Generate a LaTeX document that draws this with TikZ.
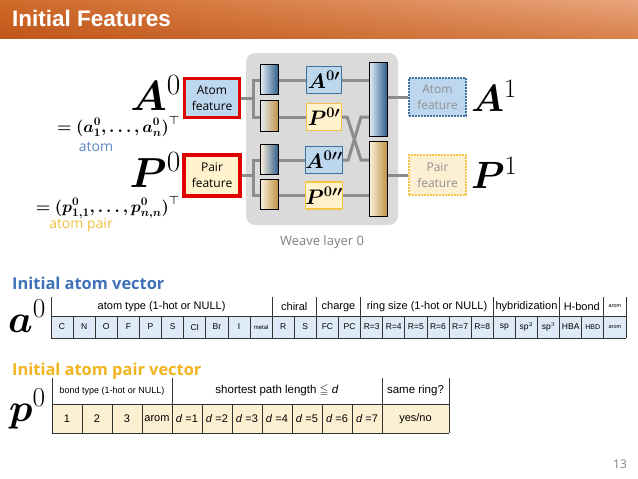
\documentclass[tikz,border=0pt]{standalone}
\usepackage{fix-cm}
\usepackage{amsmath,amssymb,bm}
\usepackage{fontspec}
\setmainfont{Liberation Sans}
\newfontfamily\osans{Open Sans}
\usetikzlibrary{backgrounds,shadings}
\newcommand\setfs[1]{\fontsize{#1}{#1}\selectfont}
\newcommand\eqAtext{$\bm{=(a_1^0,\ldots,a_n^0)^\top}$}
\newcommand\eqPtext{$\bm{=(p_{1,1}^0,\ldots,p_{n,n}^0)^\top}$}
\definecolor{tUL}{HTML}{D06A2A}
\definecolor{tLL}{HTML}{C0561A}
\definecolor{tUR}{HTML}{E8A47C}
\definecolor{tLR}{HTML}{D9824C}
\definecolor{lblue}{HTML}{BDD7EE}
\definecolor{llblue}{HTML}{DEEBF7}
\definecolor{dblue}{HTML}{41719C}
\definecolor{beige}{HTML}{FFF2CC}
\definecolor{lbeige}{HTML}{FDF0D2}
\definecolor{ybord}{HTML}{F4C446}
\definecolor{redb}{HTML}{E00000}
\definecolor{lineg}{HTML}{8C8C8C}
\definecolor{panel}{HTML}{DADADA}
\definecolor{barblue}{HTML}{2E5C8A}
\definecolor{bartan}{HTML}{BF9040}
\definecolor{barlight}{HTML}{E2ECF6}
\definecolor{barbeige}{HTML}{FAF0DA}
\definecolor{headblue}{HTML}{3F72B8}
\definecolor{headyel}{HTML}{F2B520}
\definecolor{atomtxt}{HTML}{5B87C5}
\definecolor{pairtxt}{HTML}{F0C040}
\definecolor{greytxt}{HTML}{909090}
\begin{document}
\begin{tikzpicture}[x=1pt,y=-1pt,
  conn/.style={draw=lineg,line width=3pt},
  bar/.style={draw=black,line width=1pt,minimum width=18pt,inner sep=0pt},
  inA/.style={draw=dblue,fill=lblue,line width=1.3pt,minimum width=35pt,minimum height=27pt,inner sep=0pt,font=\setfs{21}},
  inP/.style={draw=ybord,fill=beige,line width=1.3pt,minimum width=35pt,minimum height=27pt,inner sep=0pt,font=\setfs{21}},
  feat/.style={draw=redb,align=center,inner sep=0pt,font=\osans\fontsize{12}{16}\selectfont},
  outbox/.style={align=center,inner sep=0pt,line width=1.8pt,dash pattern=on 1.6pt off 1.4pt,text=greytxt,font=\osans\fontsize{12}{16}\selectfont,minimum width=57pt},
  tline/.style={draw=black!80,line width=0.8pt},
  acell/.style={inner sep=0pt,font=\setfs{8.5}},
  pcell/.style={inner sep=0pt,font=\setfs{11}},
  hlab/.style={inner sep=0pt,font=\setfs{11}},
  big/.style={inner sep=0pt,font=\setfs{42}},
  bigr/.style={inner sep=0pt,font=\setfs{38}},
  vec/.style={inner sep=0pt,anchor=base west,font=\setfs{39}},
  eqn/.style={inner sep=0pt,font=\setfs{16.6}},
  heading/.style={inner sep=0pt,anchor=base west,font=\osans\bfseries\setfs{16.4}}
]
\useasboundingbox (0,0) rectangle (638,479);
% title bar
\shade[upper left=tUL,lower left=tLL,upper right=tUR,lower right=tLR] (0,0) rectangle (638,38);
\node[anchor=base west,inner sep=0pt,text=white,font=\bfseries\setfs{22.5}] (title) at (12,27) {Initial Features};

% bars
\node[bar,minimum height=30pt,left color=barlight,right color=barblue] (b1) at (269.5,79.5) {};
\node[bar,minimum height=31pt,left color=barlight,right color=bartan] (b2) at (269.5,116) {};
\node[bar,minimum height=30pt,left color=barbeige,right color=barblue] (b3) at (269.5,159.5) {};
\node[bar,minimum height=30pt,left color=barbeige,right color=bartan] (b4) at (269.5,194.5) {};
\node[bar,minimum height=74pt,left color=barlight,right color=barblue] (B1) at (378.5,99.5) {};
\node[bar,minimum height=75pt,left color=barbeige,right color=bartan] (B2) at (378.5,179) {};

% inner boxes
\node[inA] (a1) at (324,80) {$\bm{A^{0\prime}}$};
\node[inP] (p1) at (324,117) {$\bm{P^{0\prime}}$};
\node[inA] (a2) at (324,160) {$\bm{A^{0\prime\prime}}$};
\node[inP] (p2) at (324,195.5) {$\bm{P^{0\prime\prime}}$};

% feature boxes
\node[feat,fill=lblue,line width=3pt,minimum width=55pt,minimum height=39pt] (af) at (212,98) {Atom\\feature};
\node[feat,fill=beige,line width=4pt,minimum width=56pt,minimum height=41pt] (pf) at (212,175.5) {Pair\\feature};
\node[outbox,draw=dblue,fill=lblue,minimum height=38pt] (ao) at (437.5,97) {Atom\\feature};
\node[outbox,draw=ybord,fill=lbeige,minimum height=40pt] (po) at (437.5,175) {Pair\\feature};

\node[anchor=base,inner sep=0pt,text=black!50,font=\osans\setfs{13}] (wl) at (322,245) {Weave layer 0};

% math labels
\node[big,anchor=base east] (A0) at (181,110) {$\bm{A}^0$};
\node[eqn,anchor=base east] (eqA) at (180,132) {\eqAtext};
\node[anchor=base,inner sep=0pt,text=atomtxt,font=\osans\setfs{14}] (atl) at (96,151) {atom};
\node[big,anchor=base east] (P0) at (181,187) {$\bm{P}^0$};
\node[eqn,anchor=base east] (eqP) at (180,212) {\eqPtext};
\node[anchor=base,inner sep=0pt,text=pairtxt,font=\osans\setfs{14}] (ptl) at (81,228) {atom pair};
\node[bigr,anchor=base west] (A1) at (471,111) {$\bm{A}^1$};
\node[bigr,anchor=base west] (P1) at (471,188) {$\bm{P}^1$};

% headings
\node[heading,text=headblue] (h1) at (12,289) {Initial atom vector};
\node[heading,text=headyel] (h2) at (12,375) {Initial atom pair vector};
\node[vec] (av) at (8,332) {$\bm{a}^0$};
\node[vec] (pv) at (9,421) {$\bm{p}^0$};

% atom table
\fill[llblue] (51,316) rectangle (626,338);
\foreach \t [count=\i from 0] in {C,N,O,F,P,S,Cl,Br,I,{\setfs{6}metal},R,S,FC,PC,R=3,R=4,R=5,R=6,R=7,R=8,sp,sp$^2$,sp$^3$,HBA,{\setfs{7}HBD},{\setfs{5.5}arom}}
  \node[acell] (ac\i) at ({51+(\i+0.5)*22.115},327) {\t};
\foreach \i in {0,...,26} \draw[tline] ({51+\i*22.115},316) -- ({51+\i*22.115},338);
\draw[tline] (51,316) -- (626,316);
\draw[tline] (51,338) -- (626,338);
\foreach \i in {0,10,12,14,20,23,25,26} \draw[tline] ({51+\i*22.115},297) -- ({51+\i*22.115},316);
\node[hlab] (ah1) at (161.6,306.5) {atom type (1-hot or NULL)};
\node[hlab] (ah2) at (294.3,306.5) {chiral};
\node[hlab] (ah3) at (338.5,306.5) {charge};
\node[hlab] (ah4) at (427,306.5) {ring size (1-hot or NULL)};
\node[hlab] (ah5) at (526.5,306.5) {hybridization};
\node[hlab] (ah6) at (581.8,306.5) {H-bond};
\node[hlab,font=\setfs{5.5}] (ah7) at (615,306.5) {arom};

% pair table
\fill[lbeige] (52,404) rectangle (449,433);
\foreach \t [count=\i from 0] in {1,2,3,arom,{\textit{d} =1},{\textit{d} =2},{\textit{d} =3},{\textit{d} =4},{\textit{d} =5},{\textit{d} =6},{\textit{d} =7}}
  \node[pcell] (pc\i) at ({52+(\i+0.5)*30},418.5) {\t};
\node[pcell] (pc11) at (415.5,418.5) {yes/no};
\foreach \i in {0,...,11} \draw[tline] ({52+\i*30},404) -- ({52+\i*30},433);
\draw[tline] (449,404) -- (449,433);
\draw[tline] (52,404) -- (449,404);
\draw[tline] (52,433) -- (449,433);
\foreach \x in {52,172,382,449} \draw[tline] (\x,378) -- (\x,404);
\node[hlab,font=\setfs{9}] (ph1) at (112,391) {bond type (1-hot or NULL)};
\node[hlab,font=\setfs{11.5}] (ph2) at (277,391) {shortest path length $\leqq$ \textit{d}};
\node[hlab,font=\setfs{11.5}] (ph3) at (415.5,391) {same ring?};

\node[anchor=base,inner sep=0pt,text=black!50,font=\osans\setfs{12}] (pg) at (620,468) {13};

\begin{scope}[on background layer]
  \fill[white] (0,38) rectangle (638,479);
  \fill[panel,rounded corners=9pt] (246,53) rectangle (398,225);
  \draw[conn] (af.east) -- ++(12,0) coordinate (ja);
  \draw[conn] (a1.west) -| (ja) |- (p1.west);
  \draw[conn] (pf.east) -- ++(11,0) coordinate (jp);
  \draw[conn] (a2.west) -| (jp) |- (p2.west);
  \draw[conn] (a1.east) -- (B1.west |- a1.east);
  \draw[conn] (p2.east) -- (B2.west |- p2.east);
  \draw[conn] (p1.east) -- ++(5,0) -- ([xshift=-8pt]B2.west |- a2.east) -- (B2.west |- a2.east);
  \draw[conn] (a2.east) -- ++(5,0) -- ([xshift=-8pt]B1.west |- p1.east) -- (B1.west |- p1.east);
  \draw[conn] (B1.east |- ao.west) -- (ao.west);
  \draw[conn] (B2.east |- po.west) -- (po.west);
\end{scope}
\end{tikzpicture}
\end{document}
